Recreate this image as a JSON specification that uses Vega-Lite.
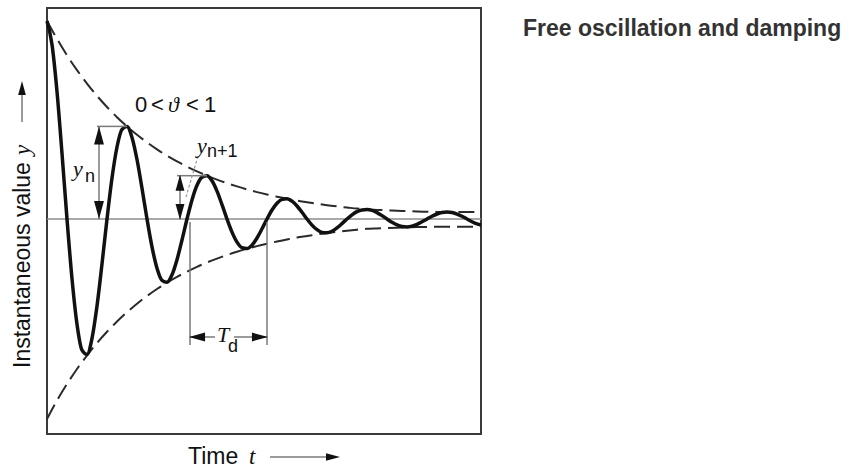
{
  "$schema": "https://vega.github.io/schema/vega-lite/v6.json",
  "width": 434,
  "height": 426,
  "autosize": {"type": "none"},
  "padding": {"left": 47, "top": 8, "right": 377, "bottom": 34},
  "config": {"view": {"stroke": "#3a3a3a", "strokeWidth": 2}},
  "title": {
    "text": "Free oscillation and damping",
    "anchor": "start",
    "frame": "group",
    "orient": "top",
    "offset": 0,
    "dx": 476,
    "dy": 51,
    "baseline": "alphabetic",
    "font": "Liberation Sans",
    "fontSize": 23,
    "fontWeight": "bold",
    "color": "#333333"
  },
  "datasets": {
    "curve": [
      {"x": 0, "y": 198}, {"x": 5, "y": 174.4}, {"x": 10, "y": 127.4}, {"x": 15, "y": 65.7},
      {"x": 20, "y": 0}, {"x": 25, "y": -59.7}, {"x": 30, "y": -105.3}, {"x": 35, "y": -131.2},
      {"x": 40, "y": -135.4}, {"x": 45, "y": -119.3}, {"x": 50, "y": -87.0}, {"x": 55, "y": -44.9},
      {"x": 60, "y": 0}, {"x": 65, "y": 40.9}, {"x": 70, "y": 72.0}, {"x": 75, "y": 89.7},
      {"x": 80, "y": 92.6}, {"x": 85, "y": 81.6}, {"x": 90, "y": 59.5}, {"x": 95, "y": 30.7},
      {"x": 100, "y": 0}, {"x": 105, "y": -27.9}, {"x": 110, "y": -49.2}, {"x": 115, "y": -61.3},
      {"x": 120, "y": -63.3}, {"x": 125, "y": -55.8}, {"x": 130, "y": -40.7}, {"x": 135, "y": -21.0},
      {"x": 140, "y": 0}, {"x": 145, "y": 19.1}, {"x": 150, "y": 33.7}, {"x": 155, "y": 41.9},
      {"x": 160, "y": 43.3}, {"x": 165, "y": 38.2}, {"x": 170, "y": 27.9}, {"x": 175, "y": 14.4},
      {"x": 180, "y": 0}, {"x": 185, "y": -13.1}, {"x": 190, "y": -23.1}, {"x": 195, "y": -28.7},
      {"x": 200, "y": -29.6}, {"x": 205, "y": -26.1}, {"x": 210, "y": -19.0}, {"x": 215, "y": -9.8},
      {"x": 220, "y": 0}, {"x": 225, "y": 9.0}, {"x": 230, "y": 15.8}, {"x": 235, "y": 19.6},
      {"x": 240, "y": 20.3}, {"x": 245, "y": 17.8}, {"x": 250, "y": 13.0}, {"x": 255, "y": 6.7},
      {"x": 260, "y": 0}, {"x": 265, "y": -6.1}, {"x": 270, "y": -10.7}, {"x": 275, "y": -13.4},
      {"x": 280, "y": -13.8}, {"x": 285, "y": -12.2}, {"x": 290, "y": -8.9}, {"x": 295, "y": -4.6},
      {"x": 300, "y": 0}, {"x": 305, "y": 4.2}, {"x": 310, "y": 7.4}, {"x": 315, "y": 9.1},
      {"x": 320, "y": 9.5}, {"x": 325, "y": 8.6}, {"x": 330, "y": 6.4}, {"x": 335, "y": 3.4},
      {"x": 340, "y": 0}, {"x": 345, "y": -3.3}, {"x": 350, "y": -5.9}, {"x": 355, "y": -7.5},
      {"x": 360, "y": -7.9}, {"x": 365, "y": -7.1}, {"x": 370, "y": -5.3}, {"x": 375, "y": -2.8},
      {"x": 380, "y": 0}, {"x": 385, "y": 2.8}, {"x": 390, "y": 5.0}, {"x": 395, "y": 6.5},
      {"x": 400, "y": 7.0}, {"x": 405, "y": 6.5}, {"x": 410, "y": 4.9}, {"x": 415, "y": 2.7},
      {"x": 420, "y": 0}, {"x": 425, "y": -2.7}, {"x": 430, "y": -4.9}, {"x": 434, "y": -6.0}
    ],
    "envelope": [
      {"x": 0, "y": 198, "side": "upper"}, {"x": 10, "y": 180.1, "side": "upper"}, {"x": 20, "y": 163.7, "side": "upper"},
      {"x": 30, "y": 148.9, "side": "upper"}, {"x": 40, "y": 135.4, "side": "upper"}, {"x": 50, "y": 123.1, "side": "upper"},
      {"x": 60, "y": 112.0, "side": "upper"}, {"x": 70, "y": 101.8, "side": "upper"}, {"x": 80, "y": 92.6, "side": "upper"},
      {"x": 90, "y": 84.2, "side": "upper"}, {"x": 100, "y": 76.6, "side": "upper"}, {"x": 110, "y": 69.6, "side": "upper"},
      {"x": 120, "y": 63.3, "side": "upper"}, {"x": 130, "y": 57.6, "side": "upper"}, {"x": 140, "y": 52.4, "side": "upper"},
      {"x": 150, "y": 47.6, "side": "upper"}, {"x": 160, "y": 43.3, "side": "upper"}, {"x": 170, "y": 39.4, "side": "upper"},
      {"x": 180, "y": 35.8, "side": "upper"}, {"x": 190, "y": 32.6, "side": "upper"}, {"x": 200, "y": 29.6, "side": "upper"},
      {"x": 210, "y": 26.9, "side": "upper"}, {"x": 220, "y": 24.5, "side": "upper"}, {"x": 230, "y": 22.3, "side": "upper"},
      {"x": 240, "y": 20.3, "side": "upper"}, {"x": 250, "y": 18.4, "side": "upper"}, {"x": 260, "y": 16.8, "side": "upper"},
      {"x": 270, "y": 15.2, "side": "upper"}, {"x": 280, "y": 13.8, "side": "upper"}, {"x": 290, "y": 12.6, "side": "upper"},
      {"x": 300, "y": 11.5, "side": "upper"}, {"x": 310, "y": 10.4, "side": "upper"}, {"x": 320, "y": 9.5, "side": "upper"},
      {"x": 330, "y": 9.1, "side": "upper"}, {"x": 340, "y": 8.7, "side": "upper"}, {"x": 350, "y": 8.3, "side": "upper"},
      {"x": 360, "y": 7.9, "side": "upper"}, {"x": 370, "y": 7.5, "side": "upper"}, {"x": 380, "y": 7.3, "side": "upper"},
      {"x": 390, "y": 7.1, "side": "upper"}, {"x": 400, "y": 7.0, "side": "upper"}, {"x": 410, "y": 7.0, "side": "upper"},
      {"x": 420, "y": 7.0, "side": "upper"}, {"x": 434, "y": 7.0, "side": "upper"},
      {"x": 0, "y": -200, "side": "lower"}, {"x": 10, "y": -181.5, "side": "lower"}, {"x": 20, "y": -165, "side": "lower"},
      {"x": 30, "y": -150, "side": "lower"}, {"x": 40, "y": -136.5, "side": "lower"}, {"x": 50, "y": -124, "side": "lower"},
      {"x": 60, "y": -112.8, "side": "lower"}, {"x": 70, "y": -102.5, "side": "lower"}, {"x": 80, "y": -93.2, "side": "lower"},
      {"x": 90, "y": -84.7, "side": "lower"}, {"x": 100, "y": -77.0, "side": "lower"}, {"x": 110, "y": -70.0, "side": "lower"},
      {"x": 120, "y": -63.6, "side": "lower"}, {"x": 130, "y": -57.9, "side": "lower"}, {"x": 140, "y": -52.6, "side": "lower"},
      {"x": 150, "y": -47.8, "side": "lower"}, {"x": 160, "y": -43.5, "side": "lower"}, {"x": 170, "y": -39.6, "side": "lower"},
      {"x": 180, "y": -36.0, "side": "lower"}, {"x": 190, "y": -32.8, "side": "lower"}, {"x": 200, "y": -29.8, "side": "lower"},
      {"x": 210, "y": -27.1, "side": "lower"}, {"x": 220, "y": -24.7, "side": "lower"}, {"x": 230, "y": -22.5, "side": "lower"},
      {"x": 240, "y": -20.5, "side": "lower"}, {"x": 250, "y": -18.6, "side": "lower"}, {"x": 260, "y": -17.0, "side": "lower"},
      {"x": 270, "y": -15.4, "side": "lower"}, {"x": 280, "y": -14.0, "side": "lower"}, {"x": 290, "y": -12.8, "side": "lower"},
      {"x": 300, "y": -11.7, "side": "lower"}, {"x": 310, "y": -10.7, "side": "lower"}, {"x": 320, "y": -9.8, "side": "lower"},
      {"x": 330, "y": -9.4, "side": "lower"}, {"x": 340, "y": -9.0, "side": "lower"}, {"x": 350, "y": -8.7, "side": "lower"},
      {"x": 360, "y": -8.4, "side": "lower"}, {"x": 370, "y": -8.1, "side": "lower"}, {"x": 380, "y": -7.9, "side": "lower"},
      {"x": 390, "y": -7.8, "side": "lower"}, {"x": 400, "y": -7.7, "side": "lower"}, {"x": 410, "y": -7.7, "side": "lower"},
      {"x": 420, "y": -7.7, "side": "lower"}, {"x": 434, "y": -7.7, "side": "lower"}
    ],
    "guides": [
      {"x": 0, "y": 0, "x2": 434, "y2": 0, "kind": "zero"},
      {"x": 50, "y": 92.6, "x2": 80, "y2": 92.6, "kind": "guide"},
      {"x": 52, "y": 92.6, "x2": 52, "y2": 0, "kind": "guide"},
      {"x": 130, "y": 43.3, "x2": 160, "y2": 43.3, "kind": "guide"},
      {"x": 133, "y": 43.3, "x2": 133, "y2": 0, "kind": "guide"},
      {"x": 151, "y": 63, "x2": 139, "y2": 22, "kind": "leader"},
      {"x": 143, "y": -3, "x2": 143, "y2": -126, "kind": "guide"},
      {"x": 220, "y": -3, "x2": 220, "y2": -126, "kind": "guide"},
      {"x": 143, "y": -118, "x2": 168, "y2": -118, "kind": "guide"},
      {"x": 187, "y": -118, "x2": 220, "y2": -118, "kind": "guide"},
      {"x": 223, "y": -238, "x2": 280, "y2": -238, "kind": "guide"},
      {"x": -25, "y": 97, "x2": -25, "y2": 125, "kind": "guide"}
    ],
    "heads": [
      {"x": 52, "y": 83.6, "dir": "up", "kind": "big"},
      {"x": 52, "y": 9, "dir": "down", "kind": "big"},
      {"x": 133, "y": 36.3, "dir": "up", "kind": "small"},
      {"x": 133, "y": 7, "dir": "down", "kind": "small"},
      {"x": 150, "y": -118, "dir": "left", "kind": "small"},
      {"x": 213, "y": -118, "dir": "right", "kind": "small"},
      {"x": 286, "y": -238, "dir": "right", "kind": "axis"},
      {"x": -25, "y": 131, "dir": "up", "kind": "axis"}
    ],
    "labels": [
      {"x": 88, "y": 107, "text": "0", "role": "sans"},
      {"x": 104, "y": 107, "text": "<", "role": "sans"},
      {"x": 121, "y": 107, "text": "ϑ", "role": "ital"},
      {"x": 139, "y": 107, "text": "<", "role": "sans"},
      {"x": 157, "y": 107, "text": "1", "role": "sans"},
      {"x": 26, "y": 43.5, "text": "y", "role": "ital"},
      {"x": 38, "y": 37, "text": "n", "role": "sub"},
      {"x": 150, "y": 66, "text": "y", "role": "ital"},
      {"x": 160, "y": 62, "text": "n+1", "role": "sub"},
      {"x": 170, "y": -123, "text": "T", "role": "ital"},
      {"x": 181, "y": -133, "text": "d", "role": "sub"},
      {"x": 141, "y": -245, "text": "Time", "role": "axis"},
      {"x": 202, "y": -245, "text": "t", "role": "axisital"},
      {"x": -17, "y": -149, "text": "Instantaneous value", "role": "yaxis"},
      {"x": -17, "y": 64, "text": "y", "role": "yaxisital"}
    ]
  },
  "encoding": {
    "x": {"field": "x", "type": "quantitative", "scale": {"domain": [0, 434], "nice": false, "zero": false}, "axis": null},
    "y": {"field": "y", "type": "quantitative", "scale": {"domain": [-215, 211], "nice": false, "zero": false}, "axis": null}
  },
  "layer": [
    {
      "data": {"name": "guides"},
      "transform": [{"filter": "datum.kind === 'zero'"}],
      "mark": {"type": "rule", "color": "#8c8c8c", "strokeWidth": 1.6},
      "encoding": {"x2": {"field": "x2"}, "y2": {"field": "y2"}}
    },
    {
      "data": {"name": "envelope"},
      "mark": {"type": "line", "color": "#2a2a2a", "strokeWidth": 2, "strokeDash": [16, 7], "interpolate": "monotone"},
      "encoding": {"detail": {"field": "side", "type": "nominal"}}
    },
    {
      "data": {"name": "curve"},
      "mark": {"type": "line", "color": "#111111", "strokeWidth": 3.5, "interpolate": "monotone"},
      "encoding": {}
    },
    {
      "data": {"name": "guides"},
      "transform": [{"filter": "datum.kind === 'guide'"}],
      "mark": {"type": "rule", "color": "#7a7a7a", "strokeWidth": 1.5},
      "encoding": {"x2": {"field": "x2"}, "y2": {"field": "y2"}}
    },
    {
      "data": {"name": "guides"},
      "transform": [{"filter": "datum.kind === 'leader'"}],
      "mark": {"type": "rule", "color": "#9a9a9a", "strokeWidth": 1.2, "strokeDash": [3, 2]},
      "encoding": {"x2": {"field": "x2"}, "y2": {"field": "y2"}}
    },
    {
      "data": {"name": "heads"},
      "mark": {"type": "point", "filled": true, "color": "#111111", "opacity": 1, "strokeWidth": 0},
      "encoding": {
        "shape": {"field": "dir", "type": "nominal", "legend": null,
          "scale": {"domain": ["up", "down", "left", "right"],
            "range": ["M0,-1L0.55,1L-0.55,1Z", "M0,1L0.55,-1L-0.55,-1Z", "M-1,0L1,-0.55L1,0.55Z", "M1,0L-1,-0.55L-1,0.55Z"]}},
        "size": {"field": "kind", "type": "ordinal", "legend": null,
          "scale": {"domain": ["big", "small", "axis"], "range": [324, 196, 400]}}
      }
    },
    {
      "data": {"name": "labels"},
      "transform": [{"filter": "datum.role === 'sans'"}],
      "mark": {"type": "text", "align": "left", "baseline": "alphabetic", "font": "Liberation Sans", "fontSize": 22, "color": "#111111"},
      "encoding": {"text": {"field": "text"}}
    },
    {
      "data": {"name": "labels"},
      "transform": [{"filter": "datum.role === 'sub'"}],
      "mark": {"type": "text", "align": "left", "baseline": "alphabetic", "font": "Liberation Sans", "fontSize": 18, "color": "#111111"},
      "encoding": {"text": {"field": "text"}}
    },
    {
      "data": {"name": "labels"},
      "transform": [{"filter": "datum.role === 'ital'"}],
      "mark": {"type": "text", "align": "left", "baseline": "alphabetic", "font": "Liberation Serif", "fontStyle": "italic", "fontSize": 22, "color": "#111111"},
      "encoding": {"text": {"field": "text"}}
    },
    {
      "data": {"name": "labels"},
      "transform": [{"filter": "datum.role === 'axis'"}],
      "mark": {"type": "text", "align": "left", "baseline": "alphabetic", "font": "Liberation Sans", "fontSize": 23, "color": "#111111"},
      "encoding": {"text": {"field": "text"}}
    },
    {
      "data": {"name": "labels"},
      "transform": [{"filter": "datum.role === 'axisital'"}],
      "mark": {"type": "text", "align": "left", "baseline": "alphabetic", "font": "Liberation Serif", "fontStyle": "italic", "fontSize": 23, "color": "#111111"},
      "encoding": {"text": {"field": "text"}}
    },
    {
      "data": {"name": "labels"},
      "transform": [{"filter": "datum.role === 'yaxis'"}],
      "mark": {"type": "text", "align": "left", "baseline": "alphabetic", "angle": 270, "font": "Liberation Sans", "fontSize": 23, "color": "#111111"},
      "encoding": {"text": {"field": "text"}}
    },
    {
      "data": {"name": "labels"},
      "transform": [{"filter": "datum.role === 'yaxisital'"}],
      "mark": {"type": "text", "align": "left", "baseline": "alphabetic", "angle": 270, "font": "Liberation Serif", "fontStyle": "italic", "fontSize": 23, "color": "#111111"},
      "encoding": {"text": {"field": "text"}}
    }
  ]
}
